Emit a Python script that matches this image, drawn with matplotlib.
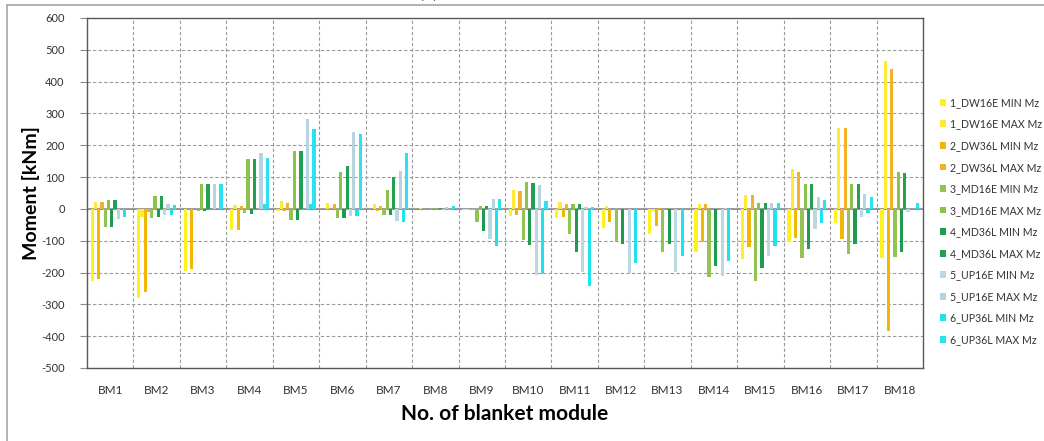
import numpy as np
import matplotlib
matplotlib.use("Agg")
import matplotlib.pyplot as plt
from matplotlib.lines import Line2D

plt.rcParams['font.family'] = ['Lato', 'DejaVu Sans']
plt.rcParams['axes.unicode_minus'] = False

# Bending moment per blanket module
modules = ["BM%d" % i for i in range(1, 19)]

dw16e_min = [-225, -280, -194, -66, -8, 0, 0, 0, -3, -22, -30, -59, -79, -136, -156, -105, -45, -153]
dw16e_max = [21, -25, 0, 13, 25, 18, 15, 3, -3, 59, 21, 8, -5, 15, 44, 126, 255, 464]
dw36l_min = [-219, -262, -190, -66, -8, 0, -5, 0, -3, -18, -25, -42, -55, -103, -121, -91, -93, -383]
dw36l_max = [23, -10, 0, 10, 18, 16, 10, 0, -3, 55, 15, 0, 3, 15, 45, 117, 255, 440]
md16e_min = [-58, -28, -8, -12, -35, -27, -18, -2, -40, -97, -80, -100, -136, -213, -226, -155, -143, -150]
md16e_max = [28, 41, 78, 157, 183, 115, 58, 2, 8, 86, 17, 0, 0, 0, 20, 78, 78, 117]
md36l_min = [-56, -25, -8, -15, -35, -27, -18, 0, -68, -112, -136, -109, -111, -178, -186, -126, -111, -134]
md36l_max = [28, 40, 78, 157, 183, 135, 100, 3, 10, 83, 17, 0, 0, 0, 20, 78, 78, 112]
up16e_min = [-31, -20, 0, 0, 0, -21, -38, -3, -94, -208, -197, -202, -197, -211, -148, -64, -24, -10]
up16e_max = [0, 14, 78, 177, 282, 241, 120, 7, 31, 74, 5, 0, 0, 3, 20, 37, 46, 0]
up36l_min = [-25, -20, 0, 15, 15, -21, -40, -3, -118, -205, -242, -171, -149, -165, -115, -45, -12, 0]
up36l_max = [0, 13, 78, 160, 250, 234, 176, 10, 32, 26, 5, 0, 0, 0, 20, 28, 39, 20]

labels = ["1_DW16E MIN Mz", "1_DW16E MAX Mz", "2_DW36L MIN Mz", "2_DW36L MAX Mz",
          "3_MD16E MIN Mz", "3_MD16E MAX Mz", "4_MD36L MIN Mz", "4_MD36L MAX Mz",
          "5_UP16E MIN Mz", "5_UP16E MAX Mz", "6_UP36L MIN Mz", "6_UP36L MAX Mz"]
series = [dw16e_min, dw16e_max, dw36l_min, dw36l_max, md16e_min, md16e_max,
          md36l_min, md36l_max, up16e_min, up16e_max, up36l_min, up36l_max]
colors = ["#FFF21C", "#FFE936", "#F2B705", "#F0B22A", "#93C452", "#8CC24C",
          "#1E9B4F", "#22A152", "#BBD8E2", "#B5D4DF", "#1DE3EE", "#2AE2F0"]

fig = plt.figure(figsize=(10.44, 4.41), dpi=100)
ax = fig.add_axes([87/1044, 73/441, 836/1044, 350/441])

x = np.arange(len(modules))
w = 0.07
for j, (vals, c, lab) in enumerate(zip(series, colors, labels)):
    ax.bar(x + (j - 5.5)*w, vals, width=w, color=c, label=lab, zorder=3)

ax.set_xlim(-0.5, len(modules) - 0.5)
ax.set_ylim(-500, 600)
ax.set_yticks(np.arange(-500, 601, 100))
ax.set_xticks(x)
ax.set_xticklabels(modules)
ax.set_xticks(x[:-1] + 0.5, minor=True)

ax.grid(True, which='major', axis='y', color='#9A9A9A', linestyle=(0, (3, 2)), linewidth=0.8, zorder=0)
ax.grid(True, which='minor', axis='x', color='#9A9A9A', linestyle=(0, (3, 2)), linewidth=0.8, zorder=0)
ax.axhline(0, color='#8C8C8C', linewidth=1.2, zorder=2)

for s in ax.spines.values():
    s.set_color('#595959')
    s.set_linewidth(1.0)
ax.tick_params(axis='y', length=5, color='#8C8C8C', labelsize=8, labelcolor='#333333', pad=11)
ax.tick_params(axis='x', which='both', length=0, labelsize=8.5, labelcolor='#333333', pad=12)

ax.set_ylabel("Moment [kNm]", fontsize=14, fontweight='bold', labelpad=1)
ax.set_xlabel("No. of blanket module", fontsize=15, fontweight='bold', labelpad=6)

leg = fig.legend(loc='upper left', bbox_to_anchor=(940/1044, 1 - 97/441), frameon=False,
                 fontsize=7.6, handlelength=0.6, handleheight=0.6, handletextpad=0.3,
                 labelspacing=1.0, borderaxespad=0, borderpad=0)
for t in leg.get_texts():
    t.set_color('#333333')

# chart-area border and cut-off caption
fig.add_artist(Line2D([7/1044, 1.0], [1 - 5/441, 1 - 5/441], color='#A6A6A6', linewidth=1.2))
fig.add_artist(Line2D([7/1044, 7/1044], [0, 1 - 5/441], color='#A6A6A6', linewidth=1.2))
fig.text(428/1044, 1.02, "(a)", fontsize=14, ha='center', va='center')

fig.savefig("out.png", dpi=100)
